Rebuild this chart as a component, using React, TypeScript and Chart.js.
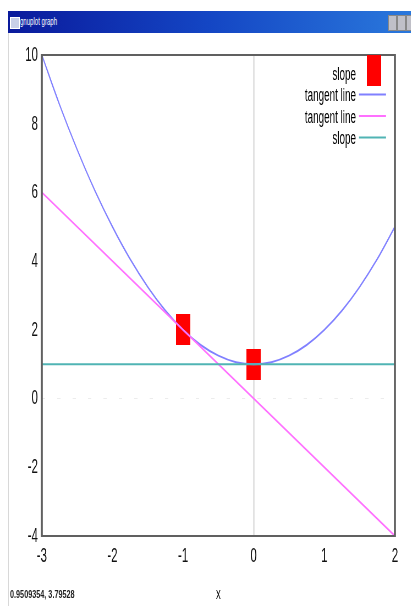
import { useEffect, useRef } from "react";
import { Chart, registerables } from "chart.js";
Chart.register(...registerables);

// ---- data ----
const curveX = [-3, -2.75, -2.5, -2.25, -2, -1.75, -1.5, -1.25, -1, -0.75, -0.5, -0.25, 0, 0.25, 0.5, 0.75, 1, 1.25, 1.5, 1.75, 2];
const curveY = [10, 8.56, 7.25, 6.06, 5, 4.06, 3.25, 2.56, 2, 1.56, 1.25, 1.06, 1, 1.06, 1.25, 1.56, 2, 2.56, 3.25, 4.06, 5];
const tangentX = [-3, 2];
const tangentY = [6, -4];
const slopeLineX = [-3, 2];
const slopeLineY = [1, 1];
const slopePointX = [-1, 0];
const slopePointY = [2, 1];
const xTicks = [-3, -2, -1, 0, 1, 2];
const yTicks = [-4, -2, 0, 2, 4, 6, 8, 10];
const seriesLabels = ["slope", "tangent line", "tangent line", "slope"];
const xTitle = "x";
const statusText = "0.9509354, 3.79528";
const windowTitle = "gnuplot graph";

const S = 0.55; // horizontal squeeze of the screenshot
const CW = 747;
const CH = 606;
const FONT = '"Liberation Sans", Arial, sans-serif';

const zip = (xs: number[], ys: number[]) => xs.map((x, i) => ({ x, y: ys[i] }));

export default function App() {
  const ref = useRef<HTMLCanvasElement | null>(null);
  useEffect(() => {
    const box = document.createElement("canvas");
    box.width = 26;
    box.height = 31;
    const bctx = box.getContext("2d")!;
    bctx.fillStyle = "#ff0000";
    bctx.fillRect(0, 0, 26, 31);

    const framePlugin = {
      id: "gpFrame",
      afterDatasetsDraw(chart: any) {
        const { ctx, chartArea: a } = chart;
        ctx.save();
        ctx.strokeStyle = "#606060";
        ctx.lineWidth = 2;
        ctx.beginPath();
        ctx.moveTo(a.left, a.top);
        ctx.lineTo(a.right, a.top);
        ctx.moveTo(a.left, a.bottom);
        ctx.lineTo(a.right, a.bottom);
        ctx.stroke();
        ctx.lineWidth = 2 / S;
        ctx.beginPath();
        ctx.moveTo(a.left, a.top - 1);
        ctx.lineTo(a.left, a.bottom + 1);
        ctx.moveTo(a.right, a.top - 1);
        ctx.lineTo(a.right, a.bottom + 1);
        ctx.stroke();
        // key
        ctx.font = `18px ${FONT}`;
        ctx.fillStyle = "#000";
        ctx.textAlign = "right";
        ctx.textBaseline = "middle";
        chart.data.datasets.forEach((ds: any, i: number) => {
          const y = 75 + 21.5 * i;
          ctx.fillText(ds.label, 356 / S, y);
          if (ds.showLine === false) {
            ctx.drawImage(ds.pointStyle, 374 / S - 13, y - 5 - 15.5);
          } else {
            ctx.strokeStyle = ds.borderColor;
            ctx.lineWidth = ds.borderWidth;
            ctx.beginPath();
            ctx.moveTo(359 / S, y - 2);
            ctx.lineTo(386 / S, y - 2);
            ctx.stroke();
          }
        });
        ctx.restore();
      },
    };

    const chart = new Chart(ref.current!, {
      type: "scatter",
      data: {
        datasets: [
          {
            label: seriesLabels[0],
            data: zip(slopePointX, slopePointY),
            showLine: false,
            pointStyle: box as any,
            pointRadius: 10,
            order: 10,
          } as any,
          {
            label: seriesLabels[1],
            data: zip(curveX, curveY),
            showLine: true,
            borderColor: "#8080ff",
            borderWidth: 2,
            pointRadius: 0,
            cubicInterpolationMode: "monotone",
            order: 3,
          },
          {
            label: seriesLabels[2],
            data: zip(tangentX, tangentY),
            showLine: true,
            borderColor: "#ff70ff",
            borderWidth: 2,
            pointRadius: 0,
            order: 2,
          },
          {
            label: seriesLabels[3],
            data: zip(slopeLineX, slopeLineY),
            showLine: true,
            borderColor: "#50b4b4",
            borderWidth: 2,
            pointRadius: 0,
            order: 1,
          },
        ],
      },
      options: {
        animation: false,
        responsive: false,
        devicePixelRatio: 1,
        events: [],
        layout: { padding: { left: 0, right: 29, top: 55, bottom: 0 } },
        plugins: { legend: { display: false }, tooltip: { enabled: false } },
        scales: {
          x: {
            type: "linear",
            min: -3,
            max: 2,
            afterBuildTicks: (s: any) => {
              s.ticks = xTicks.map((v) => ({ value: v }));
            },
            afterFit: (s: any) => {
              s.height = 70;
            },
            border: { display: false },
            grid: {
              drawTicks: false,
              color: (c: any) => (c.tick && c.tick.value === 0 ? "#e2e2e2" : "rgba(0,0,0,0)"),
              lineWidth: 1.6 / S,
            },
            ticks: { padding: 8, color: "#111", font: { family: FONT, size: 21 } },
            title: {
              display: true,
              text: xTitle,
              color: "#111",
              font: { family: FONT, size: 17 },
              padding: { top: 0, bottom: 1 },
            },
          },
          y: {
            type: "linear",
            min: -4,
            max: 10,
            afterBuildTicks: (s: any) => {
              s.ticks = yTicks.map((v) => ({ value: v }));
            },
            afterFit: (s: any) => {
              s.width = 76;
            },
            border: { display: false, dash: [6, 22] },
            grid: {
              drawTicks: false,
              color: (c: any) => (c.tick && c.tick.value === 0 ? "#ececec" : "rgba(0,0,0,0)"),
              lineWidth: 1,
            },
            ticks: { padding: 7, color: "#111", font: { family: FONT, size: 21 } },
          },
        },
      },
      plugins: [framePlugin],
    } as any);
    return () => chart.destroy();
  }, []);

  return (
    <div style={{ position: "fixed", left: 0, top: 0, width: 411, height: 606, background: "#fff", overflow: "hidden" }}>
      <div style={{ position: "absolute", left: 0, top: 0, width: CW, height: CH, transform: `scaleX(${S})`, transformOrigin: "0 0" }}>
        <canvas ref={ref} width={CW} height={CH} style={{ width: CW, height: CH, display: "block" }} />
      </div>
      <div
        style={{
          position: "absolute",
          left: 8,
          top: 11,
          width: 403,
          height: 22,
          background: "linear-gradient(to right, #0a1a9c, #1446c4 50%, #2a78dc)",
        }}
      >
        <div style={{ position: "absolute", left: 2, top: 6, width: 8, height: 10, background: "#c8d0e8", border: "1px solid #fff" }} />
        <div
          style={{
            position: "absolute",
            left: 12,
            top: 4,
            color: "#fff",
            font: `11px ${FONT}`,
            whiteSpace: "nowrap",
            transform: "scaleX(0.55)",
            transformOrigin: "0 0",
          }}
        >
          {windowTitle}
        </div>
        <div style={{ position: "absolute", left: 380, top: 4, width: 7, height: 14, background: "#c0c0c8", border: "1px solid #888" }} />
        <div style={{ position: "absolute", left: 389, top: 4, width: 7, height: 14, background: "#c0c0c8", border: "1px solid #888" }} />
        <div style={{ position: "absolute", left: 398, top: 4, width: 7, height: 14, background: "#c0c0c8", border: "1px solid #888" }} />
      </div>
      <div style={{ position: "absolute", left: 8, top: 33, width: 1, height: 573, background: "#d8d8d8" }} />
      <div
        style={{
          position: "absolute",
          left: 10,
          top: 588,
          color: "#222",
          font: `bold 11px ${FONT}`,
          whiteSpace: "nowrap",
          transform: "scaleX(0.66)",
          transformOrigin: "0 0",
        }}
      >
        {statusText}
      </div>
    </div>
  );
}
